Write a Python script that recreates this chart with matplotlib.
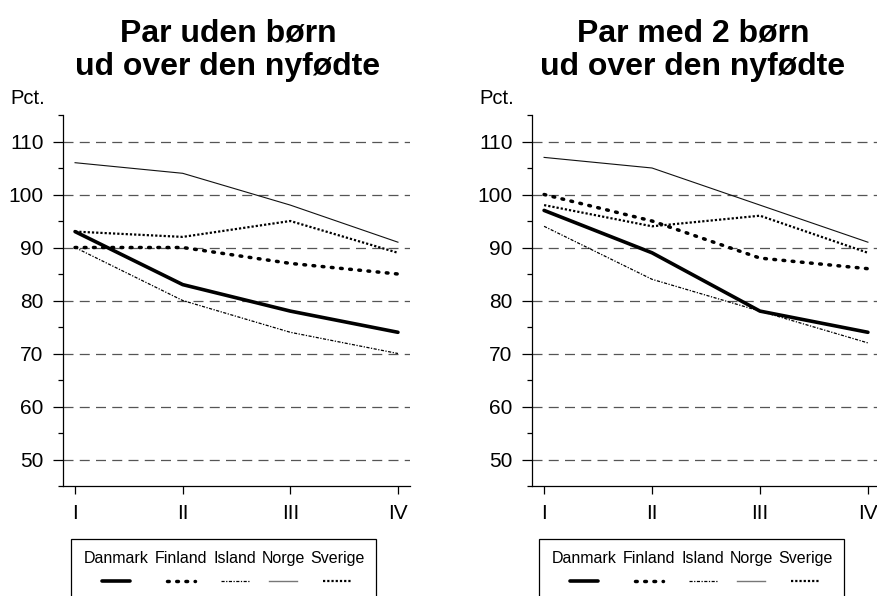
import matplotlib
matplotlib.use("Agg")
import matplotlib.pyplot as plt
from matplotlib.lines import Line2D
from matplotlib.patches import Rectangle
from matplotlib.ticker import MultipleLocator

plt.rcParams['font.family'] = ['Liberation Sans', 'DejaVu Sans']

periods = ['I', 'II', 'III', 'IV']
countries = ['Danmark', 'Finland', 'Island', 'Norge', 'Sverige']

titles = ['Par uden børn\nud over den nyfødte', 'Par med 2 børn\nud over den nyfødte']

uden_danmark = [93, 83, 78, 74]
uden_finland = [90, 90, 87, 85]
uden_island = [90, 80, 74, 70]
uden_norge = [106, 104, 98, 91]
uden_sverige = [93, 92, 95, 89]

med2_danmark = [97, 89, 78, 74]
med2_finland = [100, 95, 88, 86]
med2_island = [94, 84, 78, 72]
med2_norge = [107, 105, 98, 91]
med2_sverige = [98, 94, 96, 89]

panels = [
    [uden_danmark, uden_finland, uden_island, uden_norge, uden_sverige],
    [med2_danmark, med2_finland, med2_island, med2_norge, med2_sverige],
]

styles = {
    'Danmark': dict(color='black', lw=2.6, linestyle='-', solid_capstyle='round'),
    'Finland': dict(color='black', lw=2.5, linestyle=(0, (0.5, 2.15)), dash_capstyle='round'),
    'Island': dict(color='black', lw=0.9, linestyle=(0, (2.5, 1.2, 1, 1.2))),
    'Norge': dict(color='#111111', lw=0.8, linestyle='-'),
    'Sverige': dict(color='black', lw=1.6, linestyle=(0, (1.0, 0.9))),
}
legend_styles = dict(styles)
legend_styles['Norge'] = dict(color='#777777', lw=1.0, linestyle='-')

W, H = 877, 596
fig = plt.figure(figsize=(W / 100, H / 100), dpi=100)

def fx(px):
    return px / W

def fy(py):
    return 1 - py / H

ax_left_px = [63, 532]
ax_right_px = [410, 880]
title_cx = [228, 693]
legend_box = [(71, 376), (539, 844)]

x = list(range(len(periods)))

for i in range(2):
    l, r = ax_left_px[i], ax_right_px[i]
    ax = fig.add_axes([fx(l), fy(486), fx(r) - fx(l), fy(115) - fy(486)])
    ax.set_xlim(-0.112, 3.112)
    ax.set_ylim(45, 115)
    for name, vals in zip(countries, panels[i]):
        ax.plot(x, vals, zorder=3, **styles[name])
    ax.set_xticks(x)
    ax.set_xticklabels(periods)
    ax.yaxis.set_major_locator(MultipleLocator(10))
    ax.yaxis.set_minor_locator(MultipleLocator(5))
    ax.set_yticks(range(50, 111, 10))
    ax.grid(axis='y', which='major', color='#555555', lw=0.9,
            linestyle=(0, (8, 5)), zorder=1)
    for s in ['top', 'right']:
        ax.spines[s].set_visible(False)
    ax.spines['left'].set_linewidth(0.9)
    ax.spines['bottom'].set_linewidth(0.9)
    ax.tick_params(axis='y', which='major', length=7, width=0.9, color='black',
                   labelsize=15, pad=7)
    ax.tick_params(axis='y', which='minor', length=3.5, width=0.9)
    ax.tick_params(axis='x', length=6, width=0.9, labelsize=15, pad=7)

    fig.text(fx(title_cx[i]), fy(50), titles[i], ha='center', va='center',
             fontsize=23, fontweight='bold', linespacing=1.15)
    fig.text(fx(l - 53), fy(98), 'Pct.', ha='left', va='center', fontsize=14.5)

    bl, br = legend_box[i]
    rect = Rectangle((fx(bl), fy(620)), fx(br) - fx(bl), fy(539) - fy(620),
                     transform=fig.transFigure, fill=False, edgecolor='black',
                     lw=0.9, clip_on=False)
    fig.add_artist(rect)
    label_cx = [bl + 45, bl + 110, bl + 164, bl + 212, bl + 266]
    for name, cx in zip(countries, label_cx):
        fig.text(fx(cx), fy(563), name, ha='center', va='baseline', fontsize=11.5)
        ln = Line2D([fx(cx - 14), fx(cx + 14)], [fy(581), fy(581)],
                    transform=fig.transFigure, **legend_styles[name])
        fig.add_artist(ln)

fig.savefig('out.png', dpi=100)
